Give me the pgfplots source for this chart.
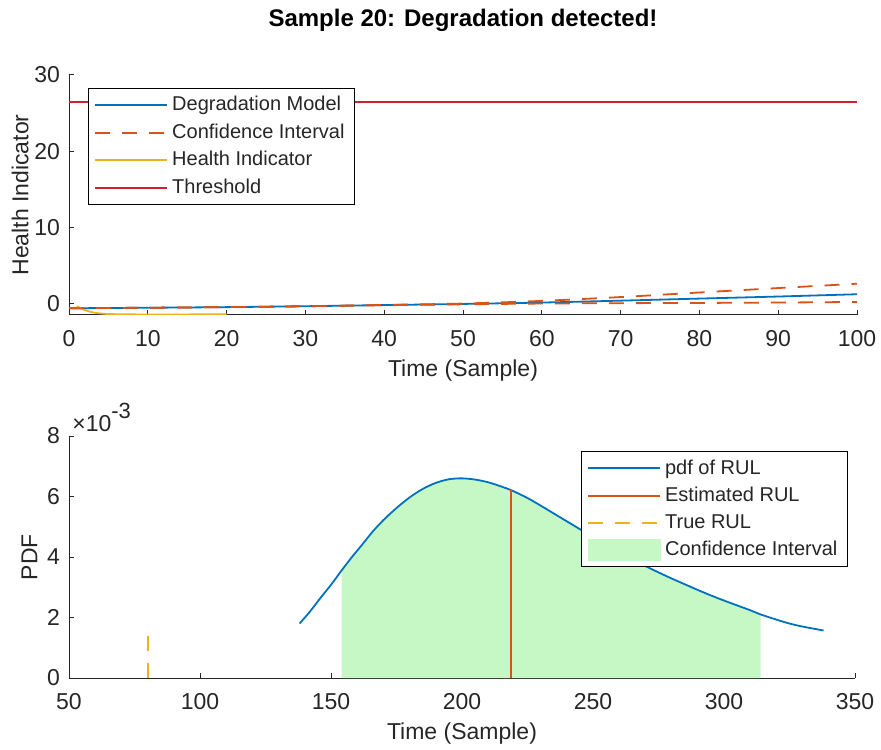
\documentclass[border=0pt]{standalone}
\usepackage{fontspec}
\setmainfont{Liberation Sans}
\usepackage{pgfplots}
\pgfplotsset{compat=1.18}
\definecolor{mblue}{HTML}{0072BD}
\definecolor{morange}{HTML}{D95319}
\definecolor{myellow}{HTML}{EDB120}
\definecolor{thr}{HTML}{D0202F}
\definecolor{cigreen}{HTML}{C6F8C6}
\definecolor{axgray}{HTML}{262626}

\pgfplotsset{
  matlab/.style={
    scale only axis,
    axis lines*=left,
    tick align=inside,
    major tick length=2.5pt,
    axis line style={draw=axgray, line width=0.5pt},
    major tick style={draw=axgray, line width=0.5pt},
    tick label style={font=\fontsize{11.5}{13}\selectfont, text=axgray},
    xticklabel style={yshift=-4pt},
    yticklabel style={xshift=-1pt},
    label style={font=\fontsize{11.5}{13}\selectfont, text=axgray},
    /pgf/number format/assume math mode=true,
    legend style={draw=black, line width=0.5pt, fill=white,
      font=\fontsize{10}{12}\selectfont, text=black!85,
      cells={anchor=west}, inner xsep=3pt, inner ysep=2pt, row sep=1pt},
    legend image code/.code={\draw[#1] (0pt,0pt) -- (36pt,0pt);},
  },
  ddash/.style={dash pattern=on 7.5pt off 6pt},
}

\begin{document}
\begin{tikzpicture}
\useasboundingbox (0,0) rectangle (440.5pt,374.5pt);

% upper panel: health indicator and degradation model
\begin{axis}[matlab,
  at={(34.5pt,217pt)}, anchor=south west,
  width=394pt, height=120pt,
  xmin=0, xmax=100, ymin=-1.45, ymax=30,
  xtick={0,10,...,100}, ytick={0,10,20,30},
  xlabel={Time (Sample)}, ylabel={Health Indicator},
  ylabel style={xshift=0pt, yshift=-4pt},
  title={Sample 20: Degradation detected!},
  title style={font=\bfseries\fontsize{12}{14}\selectfont, text=black, yshift=12pt},
  legend style={at={(0.024,0.946)}, anchor=north west},
]
\addplot[mblue, line width=0.9pt, smooth] coordinates {
  (0,-0.57) (10,-0.5) (20,-0.42) (30,-0.3) (40,-0.15) (50,0.0) (60,0.18)
  (70,0.43) (80,0.7) (90,0.97) (100,1.27)};
\addlegendentry{Degradation Model}
\addplot[morange, line width=0.9pt, ddash, smooth] coordinates {
  (0,-0.57) (10,-0.5) (20,-0.42) (30,-0.3) (40,-0.13) (50,0.05) (60,0.4)
  (70,0.9) (80,1.5) (90,2.08) (100,2.65)};
\addlegendentry{Confidence Interval}
\addplot[myellow, line width=0.9pt, smooth] coordinates {
  (1,-0.3) (2,-0.8) (3,-1.1) (4,-1.25) (5,-1.32) (7,-1.36) (10,-1.38)
  (13,-1.38) (16,-1.37) (20,-1.36)};
\addlegendentry{Health Indicator}
\addplot[thr, line width=0.9pt] coordinates {(0,26.5) (100,26.5)};
\addlegendentry{Threshold}
\addplot[morange, line width=0.9pt, ddash, smooth, forget plot] coordinates {
  (0,-0.57) (10,-0.5) (20,-0.42) (30,-0.3) (40,-0.17) (50,-0.05) (60,0.05)
  (70,0.1) (80,0.13) (90,0.18) (100,0.26)};
\end{axis}

% lower panel: RUL distribution
\begin{axis}[matlab,
  at={(34.5pt,35.5pt)}, anchor=south west,
  width=393pt, height=121pt,
  xmin=50, xmax=350, ymin=0, ymax=8,
  xtick={50,100,...,350}, ytick={0,2,4,6,8},
  xlabel={Time (Sample)}, ylabel={PDF},
  ylabel style={yshift=-2pt},
  clip=false,
  legend style={at={(0.991,0.938)}, anchor=north east},
]
\addplot[fill=cigreen, draw=none, forget plot] coordinates {
  (154.1,0) (154.1,3.56) (158,4.00) (162,4.42) (166,4.85) (170,5.22)
  (175,5.62) (180,5.97) (185,6.25) (190,6.45) (195,6.57) (200,6.60)
  (205,6.56) (210,6.47) (215,6.33) (219,6.20) (225,5.95) (230,5.70)
  (235,5.44) (240,5.18) (245,4.92) (250,4.65) (255,4.39) (260,4.15)
  (265,3.92) (270,3.70) (275,3.49) (280,3.29) (285,3.10) (290,2.91)
  (295,2.73) (300,2.56) (305,2.40) (310,2.24) (314,2.10) (314,0)} \closedcycle;
\addplot[mblue, line width=0.9pt, smooth] coordinates {
  (138,1.80) (142,2.20) (146,2.65) (150,3.08) (154,3.55) (158,4.00)
  (162,4.42) (166,4.85) (170,5.22) (175,5.62) (180,5.97) (185,6.25)
  (190,6.45) (195,6.57) (200,6.60) (205,6.56) (210,6.47) (215,6.33)
  (219,6.20) (225,5.95) (230,5.70) (235,5.44) (240,5.18) (245,4.92)
  (250,4.65) (255,4.39) (260,4.15) (265,3.92) (270,3.70) (275,3.49)
  (280,3.29) (285,3.10) (290,2.91) (295,2.73) (300,2.56) (305,2.40)
  (310,2.24) (314,2.10) (320,1.93) (325,1.80) (330,1.70) (338,1.57)};
\addlegendentry{pdf of RUL}
\addplot[morange, line width=0.9pt] coordinates {(218.7,0) (218.7,6.21)};
\addlegendentry{Estimated RUL}
\addplot[myellow, line width=0.9pt, ddash] coordinates {(80.2,0) (80.2,1.6)};
\addlegendentry{True RUL}
\addlegendimage{legend image code/.code={\fill[cigreen] (0pt,-5pt) rectangle (36pt,5pt);}}
\addlegendentry{Confidence Interval}
\node[anchor=south west, inner sep=0pt, xshift=1.5pt, yshift=2pt,
  font=\fontsize{11.5}{13}\selectfont, text=axgray] at (rel axis cs:0,1)
  {×10\raisebox{0.55em}{\fontsize{11}{11}\selectfont -3}};
\end{axis}
\end{tikzpicture}
\end{document}
